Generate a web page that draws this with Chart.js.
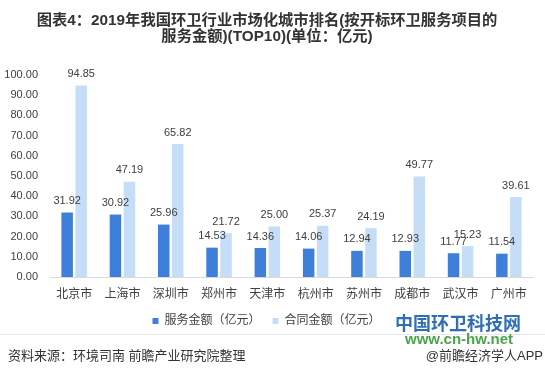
<!DOCTYPE html>
<html>
<head>
<meta charset="utf-8">
<script src="https://cdn.jsdelivr.net/npm/chart.js@4.4.0/dist/chart.umd.min.js"></script>
<style>
  body { margin:0; background:#fff; }
  #wrap { position:relative; width:545px; height:373px; overflow:hidden;
          font-family:"Liberation Sans","Noto Sans CJK SC",sans-serif; }
  #chart { position:absolute; left:0; top:0; }
  #title { position:absolute; left:0; top:12px; width:534px; text-align:center;
           font-weight:bold; font-size:15.3px; line-height:16px; color:#333; }
  #sep { position:absolute; left:0; top:334px; width:545px; height:1px; background:#e8e8e8; }
  #source { position:absolute; left:8px; top:345px; font-size:13px; color:#333; }
  #app { position:absolute; right:2px; top:345px; font-size:13px; color:#333; }
  #logo1 { position:absolute; left:395px; top:309px; font-size:18px; font-weight:bold; color:#2f6db5; }
  #logo2 { position:absolute; left:405px; top:330px; font-size:15px; font-weight:bold; color:#4aa54a; }
</style>
</head>
<body>
<div id="wrap">
  <canvas id="chart" width="545" height="373"></canvas>
  <div id="title">图表4：2019年我国环卫行业市场化城市排名(按开标环卫服务项目的<br>服务金额)(TOP10)(单位：亿元)</div>
  <div id="sep"></div>
  <div id="source">资料来源：环境司南 前瞻产业研究院整理</div>
  <div id="logo1">中国环卫科技网</div>
  <div id="logo2">www.cn-hw.net</div>
  <div id="app">@前瞻经济学人APP</div>
</div>
<script>
// data
var cities = ["北京市","上海市","深圳市","郑州市","天津市","杭州市","苏州市","成都市","武汉市","广州市"]
var service = [31.92,30.92,25.96,14.53,14.36,14.06,12.94,12.93,11.77,11.54]
var contract = [94.85,47.19,65.82,21.72,25.00,25.37,24.19,49.77,15.23,39.61]
var seriesNames = ["服务金额（亿元）","合同金额（亿元）"]

var cjk = '"Liberation Sans","Noto Sans CJK SC",sans-serif'

// value labels above bars
var barLabels = {
    id: "barLabels",
    afterDatasetsDraw: function(chart){
        var ctx = chart.ctx
        ctx.save()
        ctx.font = "11px " + cjk
        ctx.fillStyle = "#404040"
        ctx.textAlign = "center"
        ctx.textBaseline = "bottom"
        chart.data.datasets.forEach(function(ds, i){
            chart.getDatasetMeta(i).data.forEach(function(bar, j){
                ctx.fillText(ds.data[j].toFixed(2), bar.x, bar.y - 6)
            })
        })
        ctx.restore()
    }
}

var chart = new Chart(document.getElementById("chart"), {
    type: "bar",
    data: {
        labels: cities,
        datasets: [
            { label: seriesNames[0], data: service, backgroundColor: "#3d7fd9", borderWidth: 0,
              categoryPercentage: 0.58, barPercentage: 0.82 },
            { label: seriesNames[1], data: contract, backgroundColor: "#c6ddf8", borderWidth: 0,
              categoryPercentage: 0.58, barPercentage: 0.82 }
        ]
    },
    options: {
        responsive: false,
        animation: false,
        layout: { padding: { top: 75, left: 0, right: 12, bottom: 36 } },
        plugins: {
            legend: {
                position: "bottom",
                labels: { boxWidth: 6, boxHeight: 6, padding: 12, color: "#404040",
                          font: { size: 12, family: cjk } }
            },
            tooltip: { enabled: false }
        },
        scales: {
            x: {
                grid: { display: false, drawTicks: false },
                border: { color: "#d9d9d9" },
                ticks: { color: "#404040", padding: 10, font: { size: 12, family: cjk } },
                afterFit: function(scale){ scale.height = 26 }
            },
            y: {
                min: 0, max: 100,
                grid: { display: false, drawTicks: false },
                border: { display: false },
                ticks: { stepSize: 10, color: "#404040", padding: 12, font: { size: 11, family: cjk },
                         callback: function(v){ return v.toFixed(2) } },
                afterFit: function(scale){ scale.width = 50 }
            }
        }
    },
    plugins: [barLabels]
})
</script>
</body>
</html>
